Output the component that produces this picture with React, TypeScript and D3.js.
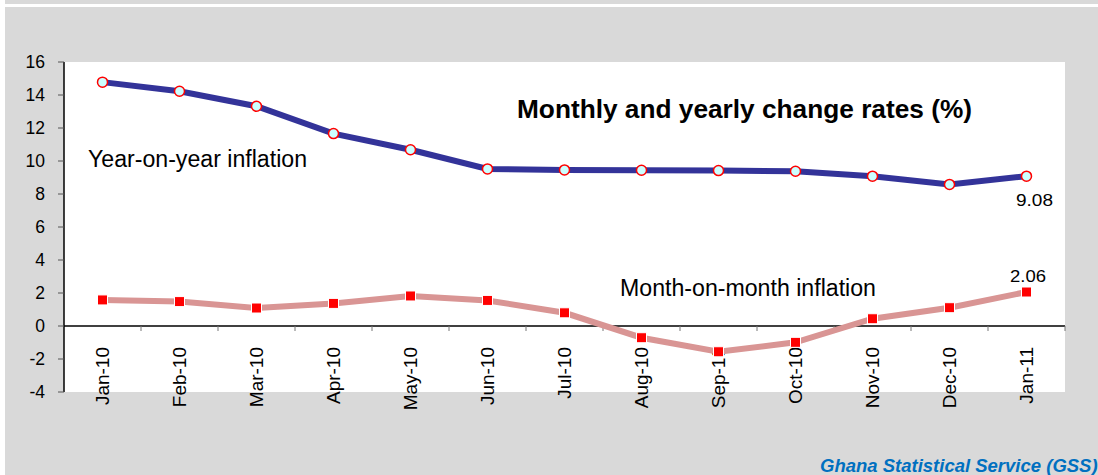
import React, { useEffect, useRef } from "react";
import * as d3 from "d3";

const months = ["Jan-10", "Feb-10", "Mar-10", "Apr-10", "May-10", "Jun-10", "Jul-10",
  "Aug-10", "Sep-10", "Oct-10", "Nov-10", "Dec-10", "Jan-11"];
const yearOnYear = [14.78, 14.23, 13.32, 11.66, 10.68, 9.52, 9.46, 9.44, 9.42, 9.38, 9.08, 8.58, 9.08];
const monthOnMonth = [1.58, 1.48, 1.09, 1.37, 1.82, 1.55, 0.8, -0.71, -1.56, -0.99, 0.44, 1.11, 2.06];
const yTicks = [-4, -2, 0, 2, 4, 6, 8, 10, 12, 14, 16];

const App = () => {
  const ref = useRef<SVGSVGElement>(null);

  useEffect(() => {
    const width = 1098;
    const height = 475;
    const left = 64, right = 1065, top = 62, bottom = 392;
    const font = "Arial, 'Liberation Sans', sans-serif";

    const svg = d3.select(ref.current);
    svg.selectAll("*").remove();

    // background
    svg.append("rect").attr("width", width).attr("height", height).attr("fill", "#ffffff");
    svg.append("rect").attr("x", 5).attr("y", 0).attr("width", width - 5).attr("height", 4).attr("fill", "#d9d9d9");
    svg.append("rect").attr("x", 5).attr("y", 7).attr("width", width - 5).attr("height", height - 7).attr("fill", "#d9d9d9");
    svg.append("rect").attr("x", left).attr("y", top).attr("width", right - left).attr("height", bottom - top).attr("fill", "#ffffff");

    const x = d3.scaleBand().domain(months).range([left, right]);
    const y = d3.scaleLinear().domain([-4, 16]).range([bottom, top]);
    const cx = (m: string) => (x(m) as number) + x.bandwidth() / 2;

    // y axis
    svg.append("line").attr("x1", left).attr("x2", left).attr("y1", top).attr("y2", bottom)
      .attr("stroke", "#000").attr("stroke-width", 1.5);
    yTicks.forEach(t => {
      svg.append("line").attr("x1", left - 6).attr("x2", left).attr("y1", y(t)).attr("y2", y(t))
        .attr("stroke", "#555").attr("stroke-width", 1);
      svg.append("text").attr("x", 45).attr("y", y(t)).attr("dy", "0.36em")
        .attr("text-anchor", "end").attr("font-family", font).attr("font-size", 17.5)
        .attr("fill", "#000").text(t);
    });

    // zero line with ticks at category boundaries
    svg.append("line").attr("x1", left).attr("x2", right).attr("y1", y(0)).attr("y2", y(0))
      .attr("stroke", "#000").attr("stroke-width", 1.5);
    months.slice(1).forEach(m => {
      const xb = x(m) as number;
      svg.append("line").attr("x1", xb).attr("x2", xb).attr("y1", y(0)).attr("y2", y(0) + 5)
        .attr("stroke", "#777").attr("stroke-width", 1);
    });
    svg.append("line").attr("x1", right).attr("x2", right).attr("y1", y(0)).attr("y2", y(0) + 5)
      .attr("stroke", "#777").attr("stroke-width", 1);

    // x labels
    months.forEach(m => {
      svg.append("text")
        .attr("transform", `translate(${cx(m)},347) rotate(-90)`)
        .attr("dy", "0.36em")
        .attr("text-anchor", "end").attr("font-family", font).attr("font-size", 19)
        .attr("fill", "#000").text(m);
    });

    const line = d3.line<number>().x((_, i) => cx(months[i])).y(d => y(d));

    // month-on-month
    svg.append("path").attr("d", line(monthOnMonth)).attr("fill", "none")
      .attr("stroke", "#d99594").attr("stroke-width", 6);
    monthOnMonth.forEach((v, i) => {
      svg.append("rect").attr("x", cx(months[i]) - 5).attr("y", y(v) - 5)
        .attr("width", 10).attr("height", 10).attr("fill", "#ff0000")
        .attr("stroke", "#ffffff").attr("stroke-width", 1);
    });

    // year-on-year
    svg.append("path").attr("d", line(yearOnYear)).attr("fill", "none")
      .attr("stroke", "#333399").attr("stroke-width", 6);
    yearOnYear.forEach((v, i) => {
      svg.append("circle").attr("cx", cx(months[i])).attr("cy", y(v)).attr("r", 5)
        .attr("fill", "#ccffff").attr("stroke", "#ff0000").attr("stroke-width", 1.5);
    });

    // texts
    svg.append("text").attr("x", 517).attr("y", 118)
      .attr("font-family", font).attr("font-size", 25).attr("font-weight", "bold")
      .attr("textLength", 455).attr("lengthAdjust", "spacingAndGlyphs")
      .attr("fill", "#000").text("Monthly and yearly change rates (%)");
    svg.append("text").attr("x", 88).attr("y", 167)
      .attr("font-family", font).attr("font-size", 23).attr("fill", "#000")
      .attr("textLength", 219).attr("lengthAdjust", "spacingAndGlyphs")
      .text("Year-on-year inflation");
    svg.append("text").attr("x", 620).attr("y", 296)
      .attr("font-family", font).attr("font-size", 23).attr("fill", "#000")
      .attr("textLength", 256).attr("lengthAdjust", "spacingAndGlyphs")
      .text("Month-on-month inflation");
    svg.append("text").attr("x", 1016).attr("y", 206)
      .attr("font-family", font).attr("font-size", 17)
      .attr("textLength", 37).attr("lengthAdjust", "spacingAndGlyphs")
      .attr("fill", "#000").text(yearOnYear[12].toFixed(2));
    svg.append("text").attr("x", 1010).attr("y", 282)
      .attr("font-family", font).attr("font-size", 17)
      .attr("textLength", 36).attr("lengthAdjust", "spacingAndGlyphs")
      .attr("fill", "#000").text(monthOnMonth[12].toFixed(2));
    svg.append("text").attr("x", 820).attr("y", 472)
      .attr("font-family", font).attr("font-size", 18.5).attr("font-weight", "bold")
      .attr("font-style", "italic").attr("fill", "#0070c0")
      .text("Ghana Statistical Service (GSS)");
  }, []);

  return (
    <svg ref={ref} width={1098} height={475}
      style={{ position: "absolute", left: 0, top: 0, display: "block" }} />
  );
};

export default App;
